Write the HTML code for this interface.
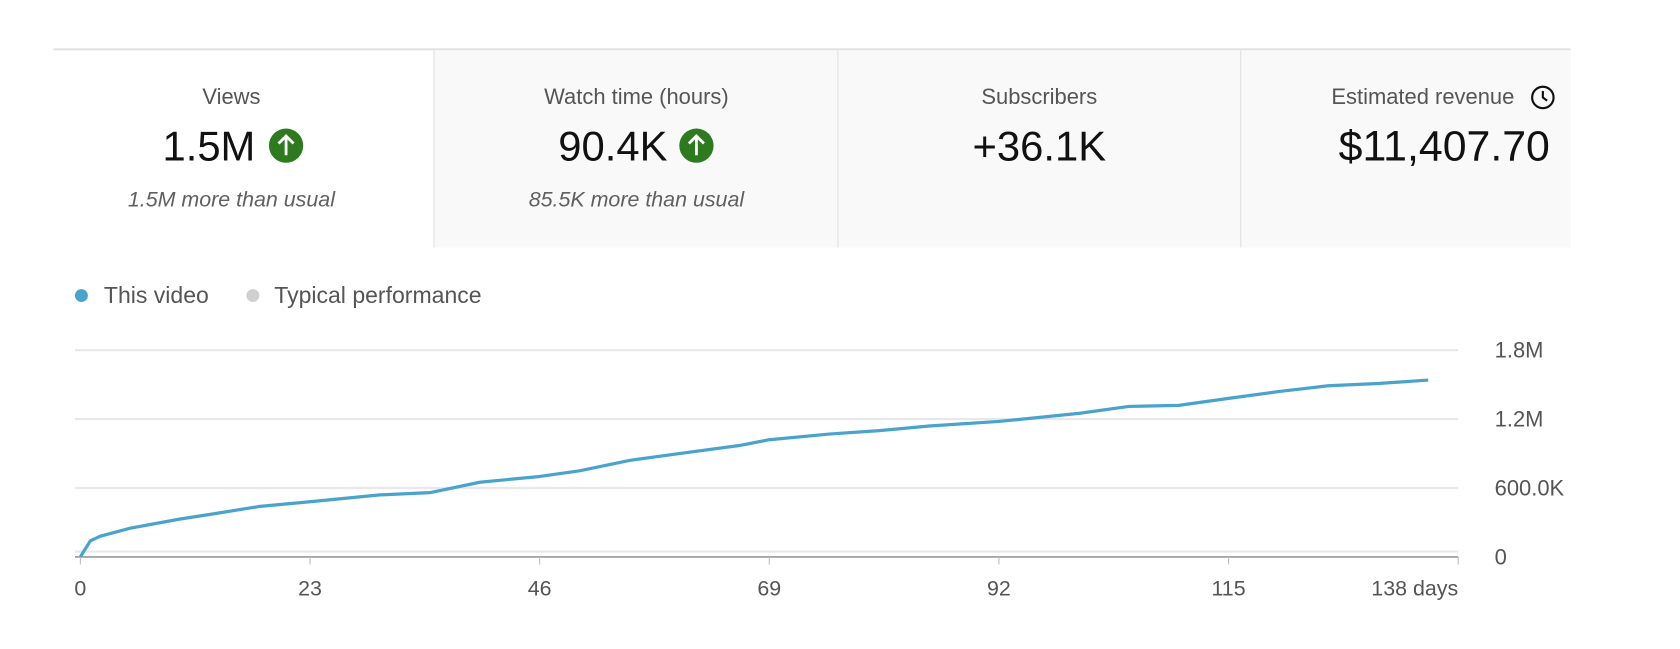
<!DOCTYPE html>
<html><head><meta charset="utf-8"><style>
html,body{margin:0;padding:0;background:#fff;}
svg{display:block;font-family:"Liberation Sans",sans-serif;}
</style></head><body>
<svg id="c" width="1680" height="649" viewBox="0 0 1568 606" preserveAspectRatio="none">
<g>
<line x1="50" y1="46" x2="1466" y2="46" stroke="#e3e3e3" stroke-width="2"/>
<rect x="405" y="47" width="1061" height="184" fill="#f9f9f9"/>
<line x1="405" y1="47" x2="405" y2="231" stroke="#e0e0e0"/>
<line x1="782" y1="47" x2="782" y2="231" stroke="#e0e0e0"/>
<line x1="1158" y1="47" x2="1158" y2="231" stroke="#e0e0e0"/>
<g>
<text x="216" y="97" text-anchor="middle" font-size="20.5" fill="#555">Views</text>
<text x="195" y="150" text-anchor="middle" font-size="39" fill="#111">1.5M</text>
<circle cx="267" cy="136" r="16" fill="#2d7a1f"/><path d="M267 145V128M260 134l7-7 7 7" stroke="#fff" stroke-width="2.6" fill="none"/>
<text x="216" y="193" text-anchor="middle" font-size="20" font-style="italic" fill="#606060">1.5M more than usual</text>
</g>
<g>
<text x="594" y="97" text-anchor="middle" font-size="20.5" fill="#555">Watch time (hours)</text>
<text x="572" y="150" text-anchor="middle" font-size="39" fill="#111">90.4K</text>
<circle cx="650" cy="136" r="16" fill="#2d7a1f"/><path d="M650 145V128M643 134l7-7 7 7" stroke="#fff" stroke-width="2.6" fill="none"/>
<text x="594" y="193" text-anchor="middle" font-size="20" font-style="italic" fill="#606060">85.5K more than usual</text>
</g>
<g>
<text x="970" y="97" text-anchor="middle" font-size="20.5" fill="#555">Subscribers</text>
<text x="970" y="150" text-anchor="middle" font-size="39" fill="#111">+36.1K</text>
</g>
<g>
<text x="1328" y="97" text-anchor="middle" font-size="20.5" fill="#555">Estimated revenue</text>
<g><circle cx="1440" cy="91" r="10" fill="none" stroke="#111" stroke-width="2"/><path d="M1440 85v6l4 3" stroke="#111" stroke-width="2" fill="none"/></g>
<text x="1348" y="150" text-anchor="middle" font-size="40" fill="#111">$11,407.70</text>
</g>
</g>
<g>
<g><circle cx="76" cy="276" r="6" fill="#4aa3cc"/><text x="97" y="283" font-size="21.5" fill="#555">This video</text></g>
<g><circle cx="236" cy="276" r="6" fill="#cfcfcf"/><text x="256" y="283" font-size="21.5" fill="#555">Typical performance</text></g>
</g>
<g id="grid"></g>
<g id="yt"></g>
<g id="xt"></g>
<g id="ln"></g>
</svg>
<script>
const days=[0,1,2,5,10,13,18,23,30,35,40,46,50,55,60,66,69,75,80,85,92,100,105,110,115,120,125,130,135];
const views=[0,140000,180000,250000,330000,370000,440000,480000,540000,560000,650000,700000,750000,840000,900000,970000,1020000,1070000,1100000,1140000,1180000,1250000,1310000,1320000,1380000,1440000,1490000,1510000,1540000];
const yTicks=[0,600000,1200000,1800000];
const yLabels=["0","600.0K","1.2M","1.8M"];
const xTicks=[0,23,46,69,92,115,138];
const xLabels=["0","23","46","69","92","115","138 days"];
const NS="http://www.w3.org/2000/svg";
const X0=75,X1=1361,Y0=520,Y1=327;
function xs(d){return X0+(X1-X0)*d/138;}
function ys(v){return Y0-(Y0-Y1)*v/1800000;}
function mk(t,a,p){const e=document.createElementNS(NS,t);for(const k in a)e.setAttribute(k,a[k]);p.appendChild(e);return e;}
const g=document.getElementById('grid'),yt=document.getElementById('yt'),xt=document.getElementById('xt'),ln=document.getElementById('ln');
yTicks.forEach((v,i)=>{
 const l=mk('line',{x1:70,x2:X1,y1:ys(v)-(v===0?5:0),y2:ys(v)-(v===0?5:0),stroke:'#e8e8e8','stroke-width':2},g);
 
 
 const t=mk('text',{x:1395,y:ys(v)+7,'font-size':20.5,fill:'#555'},yt);t.textContent=yLabels[i];
 
 
});
const ax=mk('line',{x1:70,x2:X1,y1:Y0,y2:Y0,stroke:'#9a9a9a','stroke-width':1.5},xt);


xTicks.forEach((d,i)=>{
 const tk=mk('line',{x1:xs(d),x2:xs(d),y1:Y0,y2:Y0+7,stroke:'#bbb'},xt);
 
 
 const last=i===xTicks.length-1;
 const t=mk('text',{x:xs(d),y:556,'font-size':20,fill:'#555','text-anchor':last?'end':'middle'},xt);t.textContent=xLabels[i];
 
 
});
const p=mk('path',{d:days.map((d,i)=>(i?'L':'M')+xs(d).toFixed(1)+' '+ys(views[i]).toFixed(1)).join(''),fill:'none',stroke:'#4aa3cc','stroke-width':3,'stroke-linejoin':'round'},ln);


</script>
</body></html>
